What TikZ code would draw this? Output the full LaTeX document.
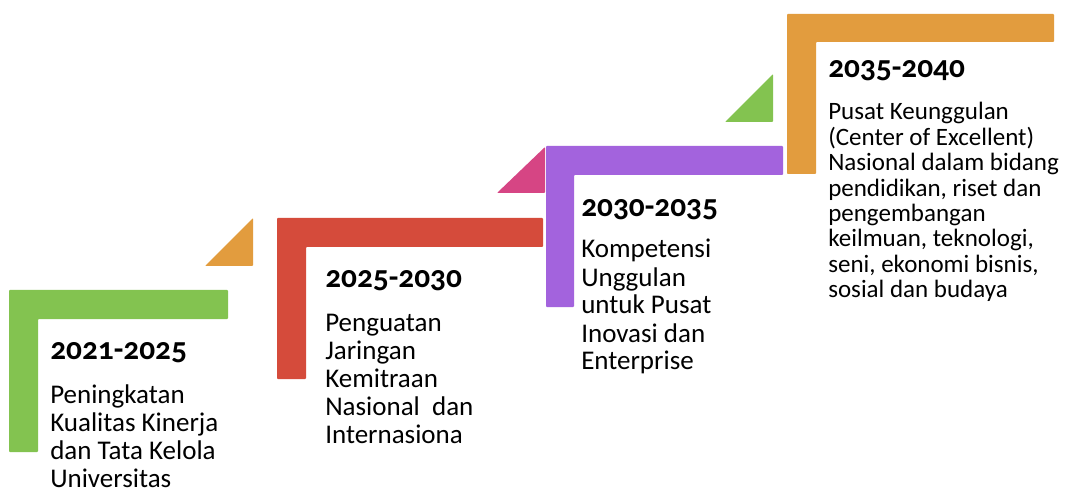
\documentclass[tikz,border=0pt]{standalone}
\usepackage{fontspec}
\setmainfont{Carlito}
\newfontfamily\yrfont[Numbers=OldStyle]{Carlito}
\definecolor{cgreen}{RGB}{131,195,80}
\definecolor{corange}{RGB}{226,156,62}
\definecolor{cred}{RGB}{213,75,59}
\definecolor{cpink}{RGB}{214,69,132}
\definecolor{cpurple}{RGB}{163,99,221}
\begin{document}
\begin{tikzpicture}[x=0.75pt,y=-0.75pt]
\tikzset{
  lbar/.style={fill=#1, rounded corners=0.6pt},
  tri/.style={fill=#1, rounded corners=0.6pt},
  yeartext/.style={anchor=base west, inner sep=0pt, font=\yrfont\bfseries\fontsize{23.5pt}{25pt}\selectfont},
  bodytext/.style={anchor=base west, inner sep=0pt, font=\fontsize{20.25pt}{21pt}\selectfont},
  bodysmall/.style={anchor=base west, inner sep=0pt, font=\fontsize{18.75pt}{19.05pt}\selectfont}
}
\useasboundingbox[fill=white] (0,0) rectangle (1067,488);
% step 1
\fill[lbar=cgreen] (9,290) -- (228,290) -- (228,319) -- (38,319) -- (38,452) -- (9,452) -- cycle;
\fill[tri=corange] (205,266) -- (253,266) -- (253,218) -- cycle;
% step 2
\fill[lbar=cred] (277,218) -- (543,218) -- (543,247) -- (306,247) -- (306,379) -- (277,379) -- cycle;
\fill[tri=cpink] (497,193) -- (545,193) -- (545,147) -- cycle;
% step 3
\fill[lbar=cpurple] (546,146) -- (783,146) -- (783,175) -- (574,175) -- (574,307) -- (546,307) -- cycle;
\fill[tri=cgreen] (725,122) -- (773,122) -- (773,74) -- cycle;
% step 4
\fill[lbar=corange] (787,14) -- (1054,14) -- (1054,42) -- (816,42) -- (816,174) -- (787,174) -- cycle;

\node[yeartext] (y1) at (50,359) {2021-2025};
\node[bodytext] (b1) at (50,403) {\parbox[t]{8cm}{\raggedright Peningkatan\\Kualitas Kinerja\\dan Tata Kelola\\Universitas}};

\node[yeartext] (y2) at (325,287) {2025-2030};
\node[bodytext] (b2) at (325,331) {\parbox[t]{8cm}{\raggedright Penguatan\\Jaringan\\Kemitraan\\Nasional~~dan\\Internasiona}};

\node[yeartext] (y3) at (581,217) {2030-2035};
\node[bodytext] (b3) at (581,258) {\parbox[t]{8cm}{\raggedright Kompetensi\\Unggulan\\untuk Pusat\\Inovasi dan\\Enterprise}};

\node[yeartext] (y4) at (828,78) {2035-2040};
\node[bodysmall] (b4) at (828,120) {\parbox[t]{8cm}{\raggedright Pusat Keunggulan\\(Center of Excellent)\\Nasional dalam bidang\\pendidikan, riset dan\\pengembangan\\keilmuan, teknologi,\\seni, ekonomi bisnis,\\sosial dan budaya}};
\end{tikzpicture}
\end{document}
